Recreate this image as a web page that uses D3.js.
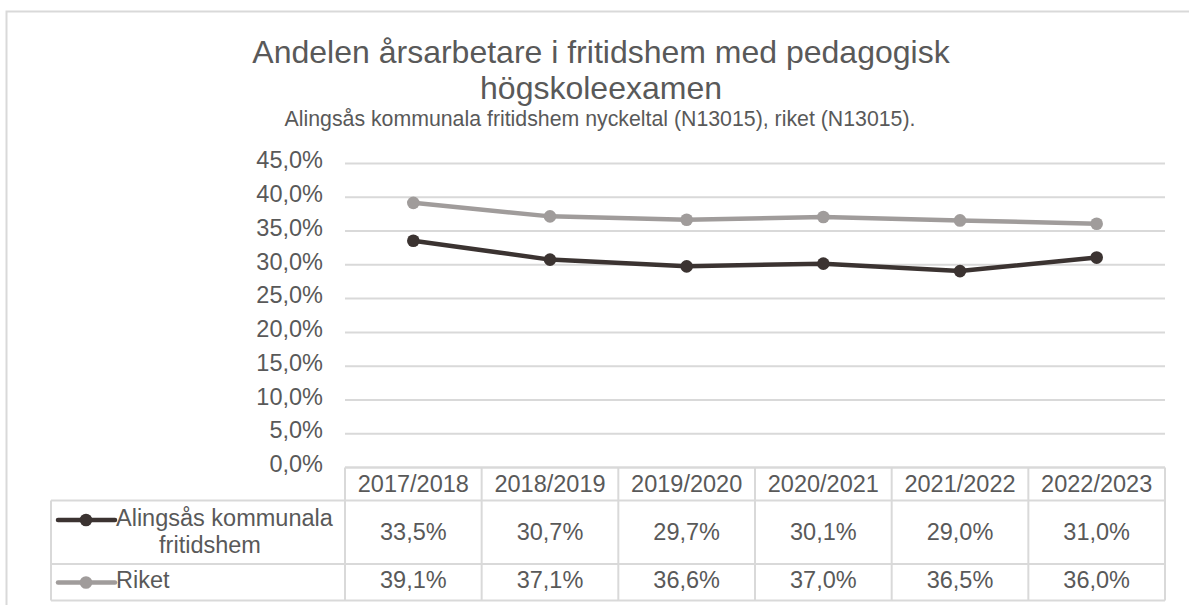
<!DOCTYPE html>
<html>
<head>
<meta charset="utf-8">
<script src="https://cdn.jsdelivr.net/npm/d3@7"></script>
<style>
  html, body { margin: 0; padding: 0; background: #fff; }
  svg { display: block; font-family: "Liberation Sans", Arial, sans-serif; }
</style>
</head>
<body>
<div id="chart"></div>
<script>
// data
var years = ["2017/2018", "2018/2019", "2019/2020", "2020/2021", "2021/2022", "2022/2023"];
var alingsas = [33.5, 30.7, 29.7, 30.1, 29.0, 31.0];
var riket = [39.1, 37.1, 36.6, 37.0, 36.5, 36.0];
var yTicks = [0, 5, 10, 15, 20, 25, 30, 35, 40, 45];
var seriesNames = [["Alingsås kommunala", "fritidshem"], ["Riket"]];
var seriesColors = ["#3b3331", "#a09c9b"];

var width = 1189, height = 605;
var textColor = "#595959", gridColor = "#d9d9d9";

var svg = d3.select("#chart").append("svg")
  .attr("width", width)
  .attr("height", height);

// chart area border
svg.append("rect")
  .attr("x", 6.5).attr("y", 11.5)
  .attr("width", 1220).attr("height", 640)
  .attr("fill", "none")
  .attr("stroke", gridColor)
  .attr("stroke-width", 2);

// titles
svg.append("text")
  .attr("x", 601).attr("y", 63)
  .attr("text-anchor", "middle")
  .attr("fill", textColor)
  .style("font-size", "32px")
  .text("Andelen årsarbetare i fritidshem med pedagogisk");
svg.append("text")
  .attr("x", 601).attr("y", 99)
  .attr("text-anchor", "middle")
  .attr("fill", textColor)
  .style("font-size", "32px")
  .text("högskoleexamen");
svg.append("text")
  .attr("x", 600).attr("y", 126)
  .attr("text-anchor", "middle")
  .attr("fill", textColor)
  .style("font-size", "21.3px")
  .text("Alingsås kommunala fritidshem nyckeltal (N13015), riket (N13015).");

var x = d3.scaleBand().domain(years).range([345, 1165]).padding(0);
var y = d3.scaleLinear().domain([0, 45]).range([467, 163]);

var fmt = function(d) { return d3.format(".1f")(d).replace(".", ",") + "%"; };

// y axis + gridlines
var yAxis = svg.append("g")
  .attr("transform", "translate(345,0)")
  .call(d3.axisLeft(y).tickValues(yTicks).tickSize(-820).tickPadding(22).tickFormat(fmt));
yAxis.select(".domain").remove();
yAxis.selectAll(".tick line").attr("stroke", gridColor).attr("stroke-width", 2);
yAxis.selectAll(".tick text")
  .attr("fill", textColor)
  .attr("dy", "0.2em")
  .style("font-size", "23.5px")
  .style("font-family", "\"Liberation Sans\", Arial, sans-serif");

// lines
var line = d3.line()
  .x(function(d, i) { return x(years[i]) + x.bandwidth() / 2; })
  .y(function(d) { return y(d); });

[alingsas, riket].forEach(function(vals, s) {
  svg.append("path")
    .datum(vals)
    .attr("d", line)
    .attr("fill", "none")
    .attr("stroke", seriesColors[s])
    .attr("stroke-width", 4.5)
    .attr("stroke-linejoin", "round");
  svg.selectAll(".dot" + s)
    .data(vals)
    .enter().append("circle")
    .attr("cx", function(d, i) { return x(years[i]) + x.bandwidth() / 2; })
    .attr("cy", function(d) { return y(d); })
    .attr("r", 6.3)
    .attr("fill", seriesColors[s]);
});

// data table
var tbl = svg.append("g");
var rowTops = [467.5, 500.5, 564, 600.5];
var legendLeft = 51;

function hline(x1, x2, yy) {
  tbl.append("line").attr("x1", x1).attr("x2", x2).attr("y1", yy).attr("y2", yy)
    .attr("stroke", gridColor).attr("stroke-width", 2);
}
function vline(xx, y1, y2) {
  tbl.append("line").attr("x1", xx).attr("x2", xx).attr("y1", y1).attr("y2", y2)
    .attr("stroke", gridColor).attr("stroke-width", 2);
}
hline(345, 1165, rowTops[0]);
hline(legendLeft, 1165, rowTops[1]);
hline(legendLeft, 1165, rowTops[2]);
hline(legendLeft, 1165, rowTops[3]);
vline(legendLeft, rowTops[1], rowTops[3]);
years.forEach(function(yr) { vline(x(yr), rowTops[0], rowTops[3]); });
vline(1165, rowTops[0], rowTops[3]);

// header
tbl.selectAll(".hdr")
  .data(years)
  .enter().append("text")
  .attr("x", function(d) { return x(d) + x.bandwidth() / 2; })
  .attr("y", 492)
  .attr("text-anchor", "middle")
  .attr("fill", textColor)
  .style("font-size", "23.5px")
  .text(function(d) { return d; });

var rowBase = [540, 588];
[alingsas, riket].forEach(function(vals, s) {
  tbl.selectAll(".val" + s)
    .data(vals)
    .enter().append("text")
    .attr("x", function(d, i) { return x(years[i]) + x.bandwidth() / 2; })
    .attr("y", rowBase[s])
    .attr("text-anchor", "middle")
    .attr("fill", textColor)
    .style("font-size", "23.5px")
    .text(fmt);
});

// legend keys
var keyY = [520, 582.5];
seriesColors.forEach(function(c, s) {
  tbl.append("line")
    .attr("x1", 58).attr("x2", 115)
    .attr("y1", keyY[s]).attr("y2", keyY[s])
    .attr("stroke", c).attr("stroke-width", 4.5).attr("stroke-linecap", "round");
  tbl.append("circle")
    .attr("cx", 86).attr("cy", keyY[s]).attr("r", 6.3).attr("fill", c);
});
tbl.append("text")
  .attr("x", 116).attr("y", 526)
  .attr("fill", textColor)
  .style("font-size", "23.5px")
  .text(seriesNames[0][0]);
tbl.append("text")
  .attr("x", 210).attr("y", 553)
  .attr("text-anchor", "middle")
  .attr("fill", textColor)
  .style("font-size", "23.5px")
  .text(seriesNames[0][1]);
tbl.append("text")
  .attr("x", 116).attr("y", 588)
  .attr("fill", textColor)
  .style("font-size", "23.5px")
  .text(seriesNames[1][0]);
</script>
</body>
</html>
